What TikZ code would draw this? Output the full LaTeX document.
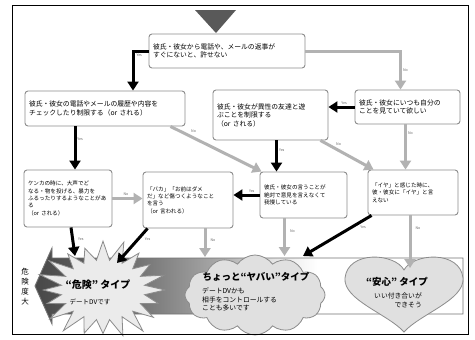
\documentclass[tikz,border=0pt]{standalone}
\usepackage{fontspec}
\newfontfamily\jp{Noto Sans CJK JP}
\usetikzlibrary{arrows.meta,shapes.symbols}
\pgfdeclarehorizontalshading{bandshade}{100bp}{color(0bp)=(black!72); color(25bp)=(black!72); color(37bp)=(black!55); color(46bp)=(black!35); color(53bp)=(black!10); color(58bp)=(white); color(100bp)=(white)}
\begin{document}
\begin{tikzpicture}[x=1pt,y=-1pt,
  box/.style={draw=black!45, line width=0.9pt, rounded corners=3pt, fill=white, inner xsep=4pt, inner ysep=2pt, align=left},
  ftop/.style={font=\jp\fontsize{6.8}{8.5}\selectfont},
  frow/.style={font=\jp\fontsize{5.6}{7.4}\selectfont},
  yesarr/.style={line width=3pt, black, -{Triangle[width=11pt,length=9pt]}},
  noarr/.style={line width=3pt, black!30, -{Triangle[width=11pt,length=9pt]}},
  lbl/.style={font=\jp\fontsize{3.6}{4}\selectfont, text=black!60, inner sep=1pt},
  shapefill/.style={draw=black!45, fill=black!12, line width=0.8pt},
  title/.style={font=\jp\bfseries\fontsize{9.5}{11}\selectfont, inner sep=0pt},
  sub/.style={font=\jp\fontsize{6.8}{8.4}\selectfont, inner sep=0pt}]
\useasboundingbox (0,0) rectangle (475,340);
\fill[white] (0,0) rectangle (475,340);

% start marker
\fill[black!65] (195,10) -- (236,10) -- (216,33) -- cycle;

% question boxes
\node[box, ftop, text width=148pt, minimum height=34pt] (A) at (227,51) {彼氏・彼女から電話や、メールの返事が\\すぐにないと、許せない};
\node[box, ftop, text width=152pt, minimum height=35pt] (B) at (105,108.5) {彼氏・彼女の電話やメールの履歴や内容を\\チェックしたり制限する（or される）};
\node[box, ftop, text width=107pt, minimum height=50pt] (C) at (270.5,115) {彼氏・彼女が異性の友達と遊\\ぶことを制限する\\（or される）\\[6pt]};
\node[box, ftop, text width=97pt, minimum height=34pt] (D) at (407.5,107) {彼氏・彼女にいつも自分の\\ことを見ていて欲しい};
\node[box, frow, text width=80pt, minimum height=57pt] (E) at (68,198.5) {ケンカの時に、大声でど\\なる・物を投げる、暴力を\\ふるったりするようなことがあ\\る\\（or される）};
\node[box, frow, text width=82pt, minimum height=56pt] (F) at (188,200) {「バカ」「お前はダメ\\だ」など傷つくようなこと\\を言う\\（or 言われる）};
\node[box, frow, text width=79pt, minimum height=46pt] (G) at (303.5,195) {彼氏・彼女の言うことが\\絶対で意見を言えなくて\\我慢している};
\node[box, frow, text width=82pt, minimum height=45pt] (H) at (413,192.5) {「イヤ」と感じた時に、\\彼・彼女に「イヤ」と言\\えない\\[4pt]};

% result band
\shadedraw[shading=bandshade, draw=black!55, line width=0.9pt] (35,286) -- (52,248) -- (52,258) -- (463,258) -- (463,314) -- (52,314) -- (52,324) -- cycle;
\node[font=\jp\fontsize{7.5}{10}\selectfont, align=center, inner sep=0pt] (level) at (25,287) {危\\険\\度\\大};

% starburst
\coordinate (burst) at (103,290);
\draw[shapefill, fill=black!8] ({103+62},{290}) \foreach \i in {1,...,39} { -- ({103+(mod(\i,2)==0 ? 63*(1+0.08*sin(\i*137)) : 42)*cos(\i*360/40)},{290+(mod(\i,2)==0 ? 47*(1+0.08*sin(\i*137)) : 30)*sin(\i*360/40)}) } -- cycle;
\node[title, font=\jp\bfseries\fontsize{10}{12}\selectfont] (t1) at (98,285) {“危険” タイプ};
\node[sub, font=\jp\fontsize{6.5}{8}\selectfont] (s1) at (90,302) {デートDVです};

% cloud
\node[cloud, cloud puffs=12, cloud puff arc=110, cloud ignores aspect, minimum width=140pt, minimum height=80pt, shapefill] (cloud) at (255,295) {};
\node[title] (t2) at (256,277) {ちょっと“ヤバい”タイプ};
\node[sub, align=left, anchor=north west] (s2) at (202,288) {デートDVかも\\相手をコントロールする\\ことも多いです};

% heart
\draw[shapefill] (404,270) .. controls (395,253) and (348,250) .. (345,278) .. controls (343,300) and (388,314) .. (404,332) .. controls (420,314) and (465,300) .. (463,278) .. controls (460,250) and (413,253) .. (404,270) -- cycle;
\coordinate (heart) at (404,270);
\node[title] (t3) at (397,282) {“安心” タイプ};
\node[sub, align=right, anchor=north east] (s3) at (422,293) {いい付き合いが\\できそう};

% arrow targets on result shapes
\coordinate (burstA) at (75,256);
\coordinate (burstB) at (117,263);
\coordinate (cloudA) at (205,257);
\coordinate (cloudB) at (284.5,256);
\coordinate (cloudC) at (303,256);
\coordinate (heartA) at (410,268);

% connectors
\draw[yesarr] (A.west) -| ([xshift=28pt]B.north) node[lbl, pos=0.3, below] {Yes};
\draw[noarr] (A.east) -| ([xshift=-7pt]D.north) node[lbl, pos=0.75, right] {No};
\draw[yesarr] (D.west) -- (D.west -| C.east) node[lbl, pos=0.4, above] {Yes};
\draw[noarr] ([xshift=-2pt]D.south) -- ([xshift=-2pt]D.south |- H.north) node[lbl, pos=0.2, right] {No};
\draw[yesarr] ([xshift=6pt]C.south) -- ([xshift=6pt]C.south |- G.north) node[lbl, pos=0.3, right] {Yes};
\draw[noarr] ([xshift=-8pt]C.south east) -- ([xshift=6pt]H.north west) node[lbl, pos=0.25, above right] {No};
\draw[yesarr] ([xshift=-30pt]B.south) -- ([xshift=-30pt]B.south |- E.north) node[lbl, pos=0.3, right] {Yes};
\draw[noarr] ([xshift=-15pt]B.south east) -- ([xshift=2pt]G.north west) node[lbl, pos=0.2, above right] {No};
\draw[noarr] (E.east) -- (E.east -| F.west) node[lbl, pos=0.45, above] {No};
\draw[yesarr] ([xshift=3pt]E.south) -- (burstA) node[lbl, pos=0.4, right=3pt] {Yes};
\draw[yesarr] (G.west) -- (G.west -| F.east) node[lbl, pos=0.3, above] {Yes};
\draw[yesarr] ([xshift=5pt]F.south west) -- (burstB) node[lbl, pos=0.3, right=4pt] {Yes};
\draw[noarr] ([xshift=17pt]F.south) -- (cloudA) node[lbl, pos=0.4, right=3pt] {No};
\draw[noarr] ([xshift=-19pt]G.south) -- (cloudB) node[lbl, pos=0.35, right=3pt] {No};
\draw[yesarr] ([xshift=4pt]H.south west) -- (cloudC) node[lbl, pos=0.2, below right] {Yes};
\draw[noarr] ([xshift=-3pt]H.south) -- (heartA) node[lbl, pos=0.25, right=3pt] {No};

% outer frame
\draw[line width=1pt] (12,5) rectangle (468,334);
\end{tikzpicture}
\end{document}
